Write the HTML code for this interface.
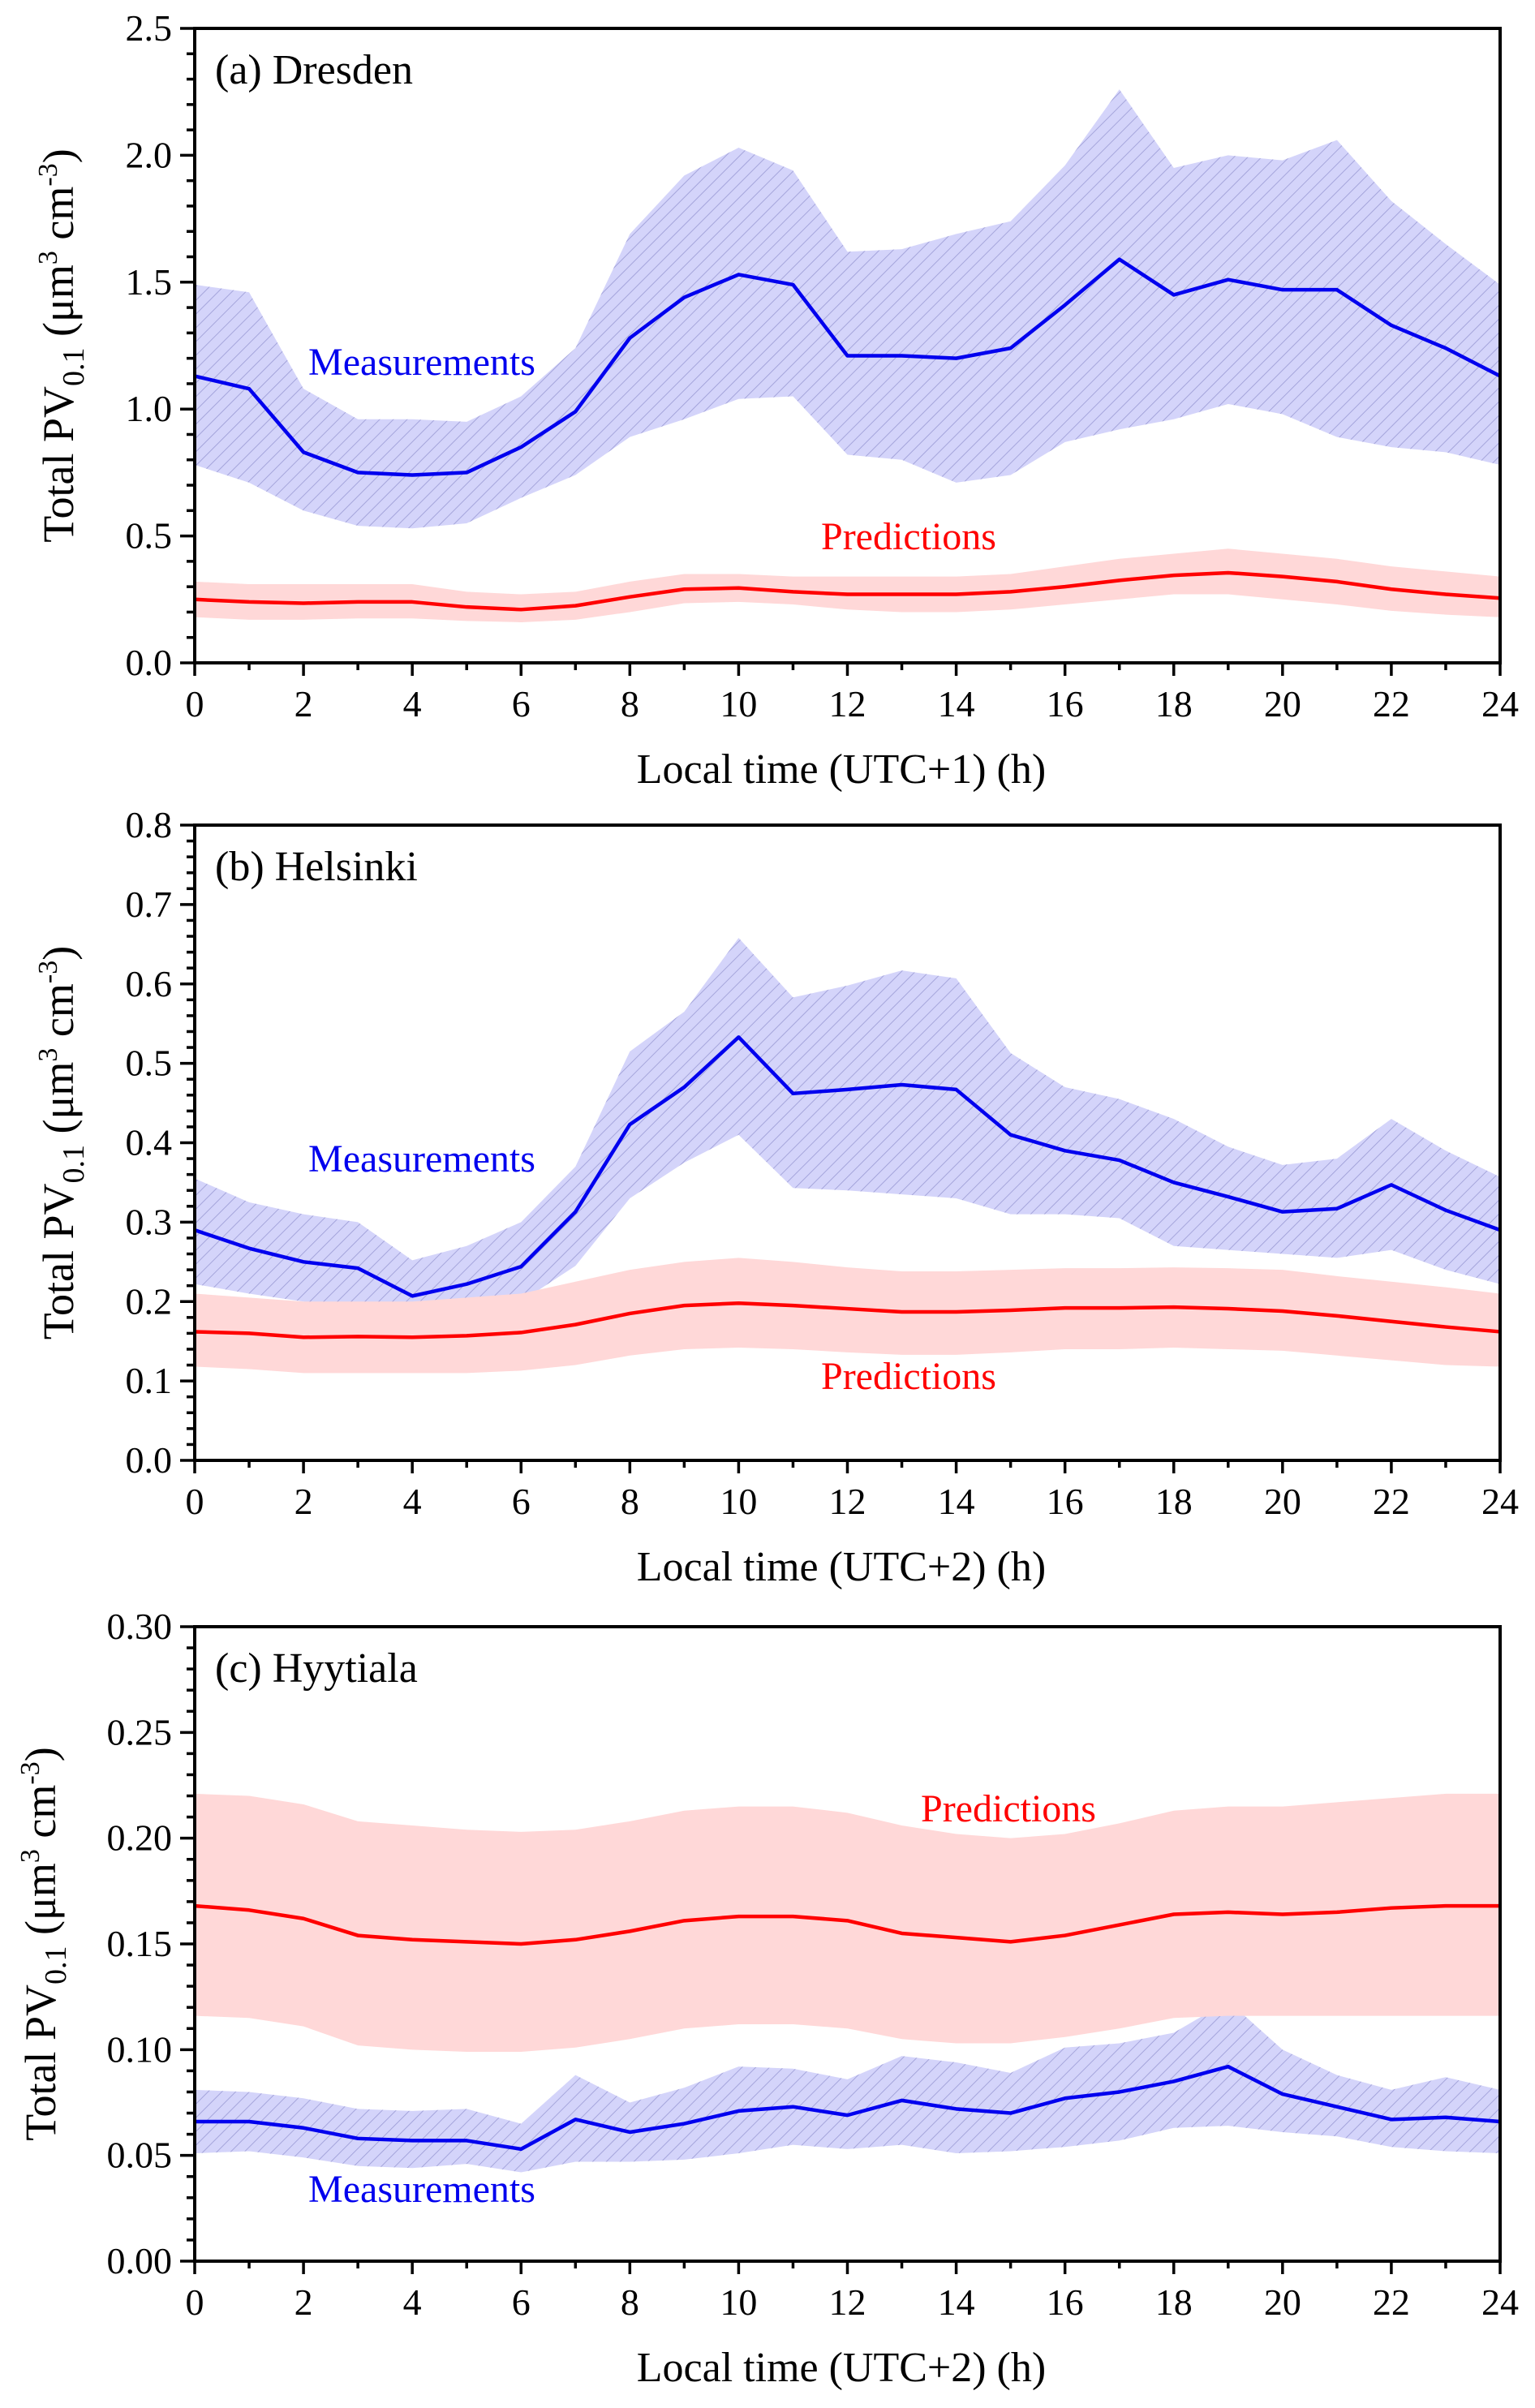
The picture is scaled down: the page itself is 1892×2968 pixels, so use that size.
<!DOCTYPE html>
<html><head><meta charset="utf-8"><style>
html,body{margin:0;padding:0;background:#fff;}
svg{display:block;}
svg text{font-family:"Liberation Serif",serif;}
</style></head>
<body>
<svg id="chart" width="1892" height="2968" viewBox="0 0 1892 2968" xmlns="http://www.w3.org/2000/svg">
<defs>
<pattern id="hatch" patternUnits="userSpaceOnUse" width="12" height="12" patternTransform="rotate(45)">
<rect width="12" height="12" fill="#d4d4fa"/>
<line x1="0" y1="0" x2="0" y2="12" stroke="#a0a0d8" stroke-width="1.8"/>
</pattern>
</defs>
</svg>
<script>
// ---- data ----
const hours = [0,1,2,3,4,5,6,7,8,9,10,11,12,13,14,15,16,17,18,19,20,21,22,23,24];
const aMeas = [1.13,1.08,0.83,0.75,0.74,0.75,0.85,0.99,1.28,1.44,1.53,1.49,1.21,1.21,1.20,1.24,1.41,1.59,1.45,1.51,1.47,1.47,1.33,1.24,1.13];
const aMeasHi = [1.49,1.46,1.08,0.96,0.96,0.95,1.05,1.24,1.69,1.92,2.03,1.94,1.62,1.63,1.69,1.74,1.96,2.26,1.95,2.0,1.98,2.06,1.82,1.65,1.49];
const aMeasLo = [0.78,0.71,0.60,0.54,0.53,0.55,0.65,0.74,0.89,0.96,1.04,1.05,0.82,0.80,0.71,0.74,0.87,0.92,0.96,1.02,0.98,0.89,0.85,0.83,0.78];
const aPred = [0.25,0.24,0.235,0.24,0.24,0.22,0.21,0.225,0.26,0.29,0.295,0.28,0.27,0.27,0.27,0.28,0.30,0.325,0.345,0.355,0.34,0.32,0.29,0.27,0.255];
const aPredHi = [0.32,0.31,0.31,0.31,0.31,0.28,0.27,0.28,0.32,0.35,0.35,0.34,0.34,0.34,0.34,0.35,0.38,0.41,0.43,0.45,0.43,0.41,0.38,0.36,0.34];
const aPredLo = [0.18,0.17,0.17,0.175,0.175,0.165,0.16,0.17,0.20,0.235,0.24,0.23,0.21,0.20,0.20,0.21,0.23,0.25,0.27,0.27,0.25,0.23,0.205,0.19,0.18];
const bMeas = [.29,.267,.25,.242,.207,.222,.244,.313,.423,.47,.533,.462,.467,.473,.467,.41,.39,.378,.35,.332,.313,.317,.347,.315,.29];
const bMeasHi = [.355,.325,.31,.3,.252,.27,.3,.37,.515,.565,.658,.583,.598,.617,.607,.513,.47,.455,.43,.395,.372,.38,.43,.39,.357];
const bMeasLo = [.222,.21,.2,.19,.17,.175,.2,.245,.33,.375,.41,.343,.34,.335,.33,.31,.31,.305,.27,.265,.26,.255,.265,.24,.222];
const bPred = [.162,.16,.155,.156,.155,.157,.161,.171,.185,.195,.198,.195,.191,.187,.187,.189,.192,.192,.193,.191,.188,.182,.175,.168,.162];
const bPredHi = [.21,.205,.2,.2,.2,.205,.21,.225,.24,.25,.255,.25,.243,.238,.238,.24,.242,.242,.243,.242,.24,.232,.225,.218,.21];
const bPredLo = [.118,.115,.11,.11,.11,.11,.113,.12,.132,.14,.142,.14,.136,.133,.133,.136,.14,.14,.142,.14,.138,.132,.126,.12,.118];
const cMeas = [.066,.066,.063,.058,.057,.057,.053,.067,.061,.065,.071,.073,.069,.076,.072,.070,.077,.080,.085,.092,.079,.073,.067,.068,.066];
const cMeasHi = [.081,.080,.077,.072,.071,.072,.065,.088,.075,.082,.092,.091,.086,.097,.094,.089,.101,.103,.108,.123,.100,.088,.081,.087,.081];
const cMeasLo = [.051,.052,.049,.045,.044,.046,.042,.047,.047,.048,.051,.055,.053,.055,.051,.052,.054,.057,.063,.064,.061,.059,.054,.052,.051];
const cPred = [.168,.166,.162,.154,.152,.151,.150,.152,.156,.161,.163,.163,.161,.155,.153,.151,.154,.159,.164,.165,.164,.165,.167,.168,.168];
const cPredHi = [.221,.220,.216,.208,.206,.204,.203,.204,.208,.213,.215,.215,.212,.206,.202,.200,.202,.207,.213,.215,.215,.217,.219,.221,.221];
const cPredLo = [.116,.115,.111,.102,.100,.099,.099,.101,.105,.110,.112,.112,.110,.105,.103,.103,.106,.110,.115,.116,.116,.116,.116,.116,.116];
const xTicks = [0,2,4,6,8,10,12,14,16,18,20,22,24];
const aYTicks = ["0.0","0.5","1.0","1.5","2.0","2.5"];
const bYTicks = ["0.0","0.1","0.2","0.3","0.4","0.5","0.6","0.7","0.8"];
const cYTicks = ["0.00","0.05","0.10","0.15","0.20","0.25","0.30"];

const NS="http://www.w3.org/2000/svg";
const svg=document.getElementById('chart');
function mk(tag,attrs,parent){const e=document.createElementNS(NS,tag);for(const k in attrs)e.setAttribute(k,attrs[k]);(parent||svg).appendChild(e);return e;}

const L=240,R=1849;
function panel(cfg){
  const g=mk('g',{});
  
  
  const T=cfg.top,B=cfg.bottom,ymax=cfg.ymax;
  const xs=h=>L+(R-L)*h/24;
  const ys=v=>B-(B-T)*v/ymax;
  function band(hi,lo,fill,name){
    let d='M'+hours.map((h,i)=>xs(h)+','+ys(hi[i])).join('L');
    d+='L'+hours.slice().reverse().map((h,j)=>{const i=hours.length-1-j;return xs(h)+','+ys(lo[i]);}).join('L')+'Z';
    const p=mk('path',{d:d,fill:fill},g);
    
    
  }
  function line(vals,color,name){
    const p=mk('polyline',{points:hours.map((h,i)=>xs(h)+','+ys(vals[i])).join(' '),fill:'none',stroke:color,'stroke-width':4.5,'stroke-linejoin':'round'},g);
    
    
  }
  band(cfg.mHi,cfg.mLo,'url(#hatch)','measurement-range');
  band(cfg.pHi,cfg.pLo,'#ffd8d8','prediction-range');
  line(cfg.p,'#ff0000','prediction-line');
  line(cfg.m,'#0000ee','measurement-line');
  const fr=mk('rect',{x:L,y:T,width:R-L,height:B-T,fill:'none',stroke:'#000','stroke-width':4},g);
  
  
  for(let h=0;h<=24;h++){
    const major=h%2===0;
    mk('line',{x1:xs(h),x2:xs(h),y1:B,y2:B+(major?16:9),stroke:'#000','stroke-width':3.5},g);
  }
  xTicks.forEach(h=>{
    const t=mk('text',{x:xs(h),y:B+66,'text-anchor':'middle','font-size':46},g);
    t.textContent=h;
    
    
  });
  const nMaj=cfg.yt.length-1;
  const nMin=nMaj*cfg.minors;
  for(let k=0;k<=nMin;k++){
    const v=ymax*k/nMin, major=k%cfg.minors===0;
    mk('line',{x1:L,x2:L-(major?18:10),y1:ys(v),y2:ys(v),stroke:'#000','stroke-width':3.5},g);
  }
  cfg.yt.forEach((lab,i)=>{
    const t=mk('text',{x:L-28,y:ys(ymax*i/nMaj)+15,'text-anchor':'end','font-size':46},g);
    t.textContent=lab;
    
    
  });
  const ti=mk('text',{x:265,y:T+68,'font-size':52},g);
  ti.textContent=cfg.title;
  
  
  const xl=mk('text',{x:1037,y:B+148,'text-anchor':'middle','font-size':52},g);
  xl.textContent=cfg.xlabel;
  
  
  const yc=(T+B)/2;
  const yl=mk('text',{x:0,y:0,'text-anchor':'middle','font-size':54,transform:'translate('+cfg.ylx+','+yc+') rotate(-90)'},g);
  yl.innerHTML='Total PV<tspan font-size="38" dy="13">0.1</tspan><tspan dy="-13"> (μm</tspan><tspan font-size="34" dy="-20">3</tspan><tspan dy="20"> cm</tspan><tspan font-size="34" dy="-20">-3</tspan><tspan dy="20">)</tspan>';
  
  
  const ml=mk('text',{x:520,y:cfg.mLabY,'text-anchor':'middle','font-size':48,fill:'#0000ee'},g);
  ml.textContent='Measurements';
  
  
  const pl=mk('text',{x:cfg.pLabX,y:cfg.pLabY,'text-anchor':'middle','font-size':48,fill:'#ff0000'},g);
  pl.textContent='Predictions';
  
  
}
panel({id:'dresden',top:35,bottom:817,ymax:2.5,yt:aYTicks,minors:5,ylx:90,m:aMeas,mHi:aMeasHi,mLo:aMeasLo,p:aPred,pHi:aPredHi,pLo:aPredLo,title:'(a) Dresden',xlabel:'Local time (UTC+1) (h)',mLabY:462,pLabX:1120,pLabY:677});
panel({id:'helsinki',top:1017,bottom:1800,ymax:0.8,yt:bYTicks,minors:5,ylx:90,m:bMeas,mHi:bMeasHi,mLo:bMeasLo,p:bPred,pHi:bPredHi,pLo:bPredLo,title:'(b) Helsinki',xlabel:'Local time (UTC+2) (h)',mLabY:1444,pLabX:1120,pLabY:1712});
panel({id:'hyytiala',top:2005,bottom:2787,ymax:0.30,yt:cYTicks,minors:5,ylx:68,m:cMeas,mHi:cMeasHi,mLo:cMeasLo,p:cPred,pHi:cPredHi,pLo:cPredLo,title:'(c) Hyytiala',xlabel:'Local time (UTC+2) (h)',mLabY:2714,pLabX:1243,pLabY:2245});
</script>
</body></html>
